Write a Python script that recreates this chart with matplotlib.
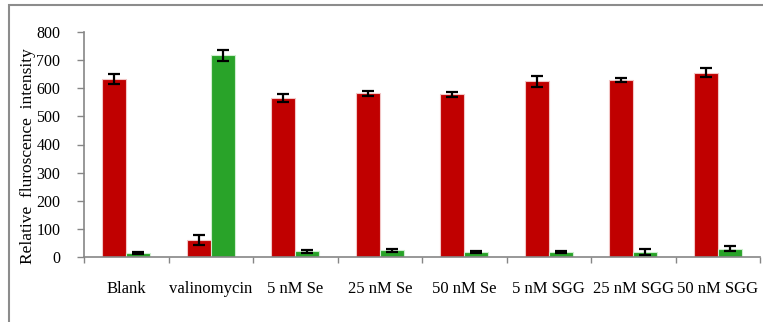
import matplotlib.pyplot as plt
import numpy as np
from matplotlib.patches import Rectangle

# samples and measured intensities
samples = ['Blank', 'valinomycin', '5 nM Se', '25 nM Se', '50 nM Se',
           '5 nM SGG', '25 nM SGG', '50 nM SGG']
red = [633, 60, 565, 582, 579, 625, 629, 656]
red_err = [18, 17, 14, 8, 9, 20, 7, 17]
green = [14, 717, 20, 24, 19, 17, 18, 30]
green_err = [4, 20, 4, 5, 4, 4, 11, 9]

plt.rcParams['font.family'] = 'Liberation Serif'

fig = plt.figure(figsize=(7.63, 3.22), dpi=100)
ax = fig.add_axes([84/763, 1 - 257/322, (760 - 84)/763, (257 - 32)/322])

x = np.arange(len(samples))
w = 0.284
err_kw = dict(ecolor='black', elinewidth=1.6, capsize=4.3, capthick=1.6)
ax.bar(x - w/2, red, w, yerr=red_err, color='#c00000',
       edgecolor='#f2c6c6', linewidth=0.8, error_kw=err_kw, zorder=2)
ax.bar(x + w/2, green, w, yerr=green_err, color='#29a329',
       edgecolor='#cfeecf', linewidth=0.8, error_kw=err_kw, zorder=2)

ax.set_xlim(-0.5, len(samples) - 0.5)
ax.set_ylim(0, 800)
ax.set_yticks(range(0, 801, 100))

# category boundaries carry the x ticks, labels sit between them
ax.set_xticks(np.arange(len(samples) + 1) - 0.5)
ax.set_xticklabels([])
ax.set_xticks(x, minor=True)
ax.set_xticklabels(samples, minor=True, fontsize=12)
ax.tick_params(axis='x', which='minor', length=0, pad=17)
ax.tick_params(axis='x', which='major', length=4, width=1, color='#868686',
               direction='out')
ax.tick_params(axis='y', length=5, width=1, color='#868686', labelsize=11.5,
               pad=12)

for s in ['top', 'right']:
    ax.spines[s].set_visible(False)
for s in ['left', 'bottom']:
    ax.spines[s].set_color('#868686')
    ax.spines[s].set_linewidth(1.2)

ax.set_ylabel('Relative  fluroscence  intensity', fontsize=12.5)
ax.yaxis.set_label_coords(-0.071, 0.45)

# outer chart frame
fig.patches.append(Rectangle((9/763, -0.2), 1.2, 1 - 5/322 + 0.2,
                             transform=fig.transFigure, fill=False,
                             edgecolor='#8c8c8c', linewidth=1.5))

fig.savefig('out.png', dpi=100)
